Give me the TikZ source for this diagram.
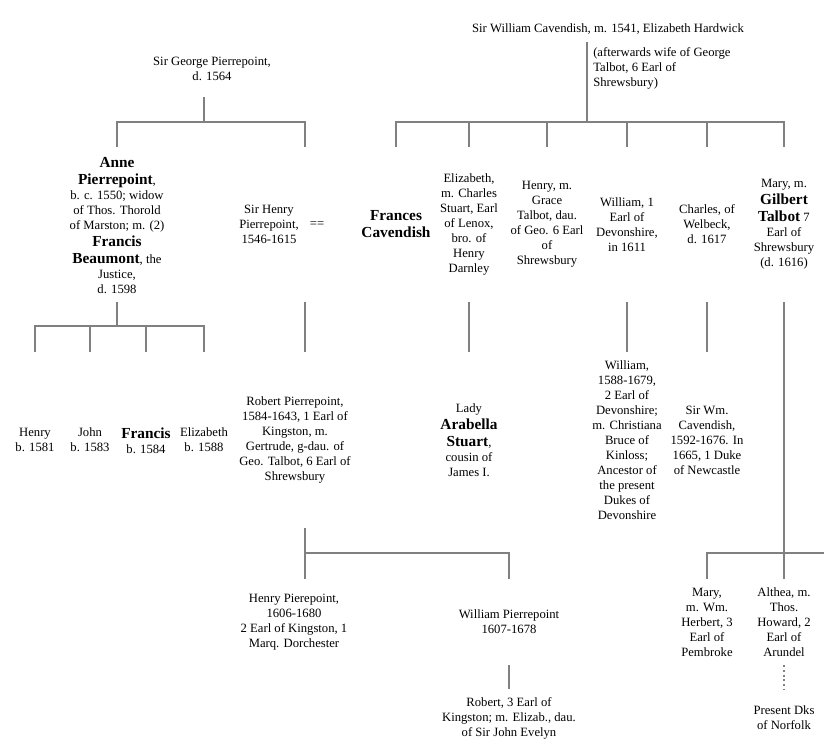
\documentclass[tikz,border=0pt]{standalone}
\usepackage{fontspec}
\setmainfont{Liberation Serif}
\newcommand{\nm}[1]{{\fontsize{11.5}{12.75}\selectfont\bfseries\rule[-2.25pt]{0pt}{11.75pt}#1}}
\tikzset{
  tree/.style={draw=black!50, line width=1.5pt},
  person/.style={align=center, inner sep=0pt, font=\fontsize{9.5}{11.25}\selectfont},
  rowa/.style={person, minimum height=116.25pt},
  rowb/.style={person, minimum height=132pt},
  rowc/.style={person, minimum height=64.5pt},
  rowd/.style={person, minimum height=43.5pt}
}
\begin{document}
\begin{tikzpicture}[x=0.75pt,y=-0.75pt]
\useasboundingbox (0,0) rectangle (824,746);
% heads of the two families
\node[person, minimum height=42pt] (george) at (212,69) {Sir George Pierrepoint,\\ d. 1564};
\node[person, minimum height=19.5pt] (cav) at (608,29) {Sir William Cavendish, m. 1541, Elizabeth Hardwick};
\node[person, align=left, anchor=west] (note) at (593,68) {(afterwards wife of George\\ Talbot, 6 Earl of\\ Shrewsbury)};
% first generation
\node[rowa] (anne) at (117,224.5) {\nm{Anne}\\ \nm{Pierrepoint},\\ b. c. 1550; widow\\ of Thos. Thorold\\ of Marston; m. (2)\\ \nm{Francis}\\ \nm{Beaumont}, the\\ Justice,\\ d. 1598};
\node[rowa] (henry) at (269,224.5) {Sir Henry\\ Pierrepoint,\\ 1546-1615};
\node[person] (eq) at (317,224.5) {==};
\node[rowa] (frances) at (396,224.5) {\nm{Frances}\\ \nm{Cavendish}};
\node[rowa] (eliz) at (469,224.5) {Elizabeth,\\ m. Charles\\ Stuart, Earl\\ of Lenox,\\ bro. of\\ Henry\\ Darnley};
\node[rowa] (henryc) at (547,224.5) {Henry, m.\\ Grace\\ Talbot, dau.\\ of Geo. 6 Earl\\ of\\ Shrewsbury};
\node[rowa] (william) at (627,224.5) {William, 1\\ Earl of\\ Devonshire,\\ in 1611};
\node[rowa] (charles) at (707,224.5) {Charles, of\\ Welbeck,\\ d. 1617};
\node[rowa] (mary) at (784,224.5) {Mary, m.\\ \nm{Gilbert}\\ \nm{Talbot} 7\\ Earl of\\ Shrewsbury\\ (d. 1616)};
% second generation
\node[rowb] (henryb) at (35,440) {Henry\\ b. 1581};
\node[rowb] (john) at (90,440) {John\\ b. 1583};
\node[rowb] (francis) at (146,440) {\nm{Francis}\\ b. 1584};
\node[rowb] (elizb) at (204,440) {Elizabeth\\ b. 1588};
\node[rowb] (robert) at (295,440) {Robert Pierrepoint,\\ 1584-1643, 1 Earl of\\ Kingston, m.\\ Gertrude, g-dau. of\\ Geo. Talbot, 6 Earl of\\ Shrewsbury};
\node[rowb] (arabella) at (469,440) {Lady\\ \nm{Arabella}\\ \nm{Stuart},\\ cousin of\\ James I.};
\node[rowb] (williamb) at (627,440) {William,\\ 1588-1679,\\ 2 Earl of\\ Devonshire;\\ m. Christiana\\ Bruce of\\ Kinloss;\\ Ancestor of\\ the present\\ Dukes of\\ Devonshire};
\node[rowb] (wmcav) at (707,440) {Sir Wm.\\ Cavendish,\\ 1592-1676. In\\ 1665, 1 Duke\\ of Newcastle};
% third generation
\node[rowc] (henryp) at (294,622) {Henry Pierepoint,\\ 1606-1680\\ 2 Earl of Kingston, 1\\ Marq. Dorchester};
\node[rowc] (williamp) at (509,622) {William Pierrepoint\\ 1607-1678};
\node[rowc] (maryh) at (707,622) {Mary,\\ m. Wm.\\ Herbert, 3\\ Earl of\\ Pembroke};
\node[rowc] (althea) at (784,622) {Althea, m.\\ Thos.\\ Howard, 2\\ Earl of\\ Arundel};
% fourth generation
\node[rowd] (robertc) at (509,718) {Robert, 3 Earl of\\ Kingston; m. Elizab., dau.\\ of Sir John Evelyn};
\node[rowd] (norfolk) at (784,718) {Present Dks\\ of Norfolk};
% junctions
\coordinate (gj) at (204,122);
\coordinate (htop) at (305,147);
\coordinate (hbot) at (305,302);
\coordinate (aj) at (117,326);
\coordinate (rj) at (305,553);
\coordinate (cj) at (587,122);
\coordinate (mj) at (784,553);
\coordinate (mjend) at (824,553);
% Pierrepoint lines
\draw[tree] (gj |- george.south) -- (gj);
\draw[tree] (anne.north) |- (gj) -| (htop);
\draw[tree] (anne.south) -- (aj);
\draw[tree] (henryb.north) |- (aj) -| (elizb.north);
\draw[tree] (john.north) -- (john.north |- aj);
\draw[tree] (francis.north) -- (francis.north |- aj);
\draw[tree] (hbot) -- (hbot |- robert.north);
\draw[tree] (rj |- robert.south) -- (rj);
\draw[tree] (rj |- henryp.north) -- (rj) -| (williamp.north);
\draw[tree] (williamp.south) -- (robertc.north);
% Cavendish lines
\draw[tree] (cj |- cav.south) -- (cj);
\draw[tree] (frances.north) |- (cj) -| (mary.north);
\draw[tree] (eliz.north) -- (eliz.north |- cj);
\draw[tree] (henryc.north) -- (henryc.north |- cj);
\draw[tree] (william.north) -- (william.north |- cj);
\draw[tree] (charles.north) -- (charles.north |- cj);
\draw[tree] (eliz.south) -- (arabella.north);
\draw[tree] (william.south) -- (williamb.north);
\draw[tree] (charles.south) -- (wmcav.north);
\draw[tree] (mary.south) -- (mj) -- (althea.north);
\draw[tree] (maryh.north) |- (mjend);
\draw[tree, dotted] (althea.south) -- (norfolk.north);
\end{tikzpicture}
\end{document}
